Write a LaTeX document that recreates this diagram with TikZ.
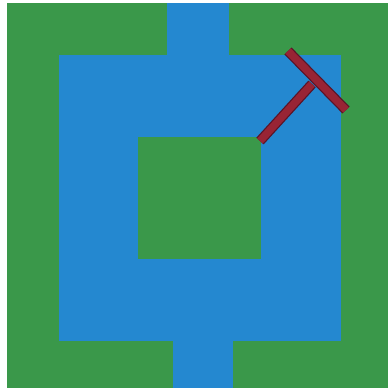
\documentclass[tikz,border=0pt]{standalone}
\usepackage{tikz}
\definecolor{fieldgreen}{RGB}{58,152,74}
\definecolor{waterblue}{RGB}{36,136,208}
\definecolor{toolred}{RGB}{152,36,52}
\definecolor{tooldark}{RGB}{90,20,40}
\begin{document}
\begin{tikzpicture}[x=1pt, y=-1pt]
        \useasboundingbox[fill=white] (0,0) rectangle (388,391);
        % field
        \fill[fieldgreen] (7,3) rectangle (388,388);
        % water ring and channels
        \fill[waterblue] (59,55) rectangle (341,341);
        \fill[waterblue] (167,3) rectangle (229,56);
        \fill[waterblue] (173,340) rectangle (233,388);
        % island
        \fill[fieldgreen] (138,137) rectangle (261,259);
        % tool
        \draw[tooldark, line width=10pt] (260,141) -- (312,84);
        \draw[tooldark, line width=10pt] (288,51) -- (346,110);
        \draw[toolred, line width=7.5pt] (260,141) -- (312,84);
        \draw[toolred, line width=7.5pt] (288,51) -- (346,110);
      \end{tikzpicture}
\end{document}
